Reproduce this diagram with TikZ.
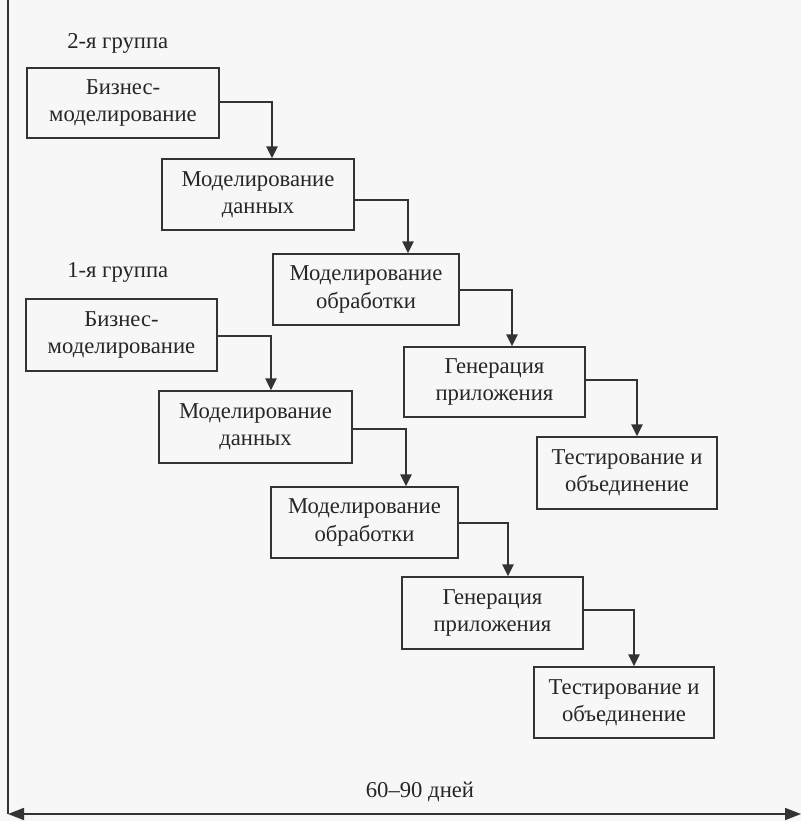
\documentclass[tikz,border=0pt]{standalone}
\usepackage{fontspec}
\setmainfont{Liberation Serif}
\usetikzlibrary{arrows.meta,calc}
\begin{document}
\begin{tikzpicture}[x=0.75pt,y=-0.75pt,
  every node/.style={text=black!85, font=\fontsize{17}{20.5}\selectfont},
  stage/.style={draw=black!80, line width=1.1pt, fill=none, rectangle, align=center, inner sep=0pt},
  arr/.style={draw=black!80, line width=1.2pt, -{Triangle[length=9pt,width=8.5pt]}},
  axis/.style={draw=black!80, line width=1.3pt},
  lbl/.style={inner sep=0pt, anchor=west}
]
\useasboundingbox[fill=white!97!black] (0,0) rectangle (801,821);

% group 2
\node[lbl] (g2) at (67,43) {2-я группа};
\node[stage, minimum width=192*0.75pt, minimum height=70*0.75pt] (A2) at (123,103) {Бизнес-\\моделирование};
\node[stage, minimum width=192*0.75pt, minimum height=71*0.75pt] (B2) at (258,194.5) {Моделирование\\данных};
\node[stage, minimum width=186*0.75pt, minimum height=71*0.75pt] (C2) at (366,289.5) {Моделирование\\обработки};
\node[stage, minimum width=181*0.75pt, minimum height=70*0.75pt] (D2) at (494.5,382) {Генерация\\приложения};
\node[stage, minimum width=180*0.75pt, minimum height=72*0.75pt] (E2) at (627,473) {Тестирование и\\объединение};

% group 1
\node[lbl] (g1) at (67,272) {1-я группа};
\node[stage, minimum width=191*0.75pt, minimum height=72*0.75pt] (A1) at (121.5,335) {Бизнес-\\моделирование};
\node[stage, minimum width=193*0.75pt, minimum height=72*0.75pt] (B1) at (255.5,427) {Моделирование\\данных};
\node[stage, minimum width=187*0.75pt, minimum height=71*0.75pt] (C1) at (364.5,522.5) {Моделирование\\обработки};
\node[stage, minimum width=181*0.75pt, minimum height=72*0.75pt] (D1) at (492.5,613) {Генерация\\приложения};
\node[stage, minimum width=180*0.75pt, minimum height=71*0.75pt] (E1) at (624,702.5) {Тестирование и\\объединение};

% connectors group 2
\draw[arr] ($(A2.east)+(0,-1)$) -| ($(B2.north)+(14,0)$);
\draw[arr] ($(B2.east)+(0,5.5)$) -| ($(C2.north)+(42,0)$);
\draw[arr] ($(C2.east)+(0,0.5)$) -| ($(D2.north)+(17.5,0)$);
\draw[arr] ($(D2.east)+(0,-2)$) -| ($(E2.north)+(10,0)$);

% connectors group 1
\draw[arr] ($(A1.east)+(0,1)$) -| ($(B1.north)+(15.5,0)$);
\draw[arr] ($(B1.east)+(0,2)$) -| ($(C1.north)+(41.5,0)$);
\draw[arr] ($(C1.east)+(0,0.5)$) -| ($(D1.north)+(15.5,0)$);
\draw[arr] ($(D1.east)+(0,-3)$) -| ($(E1.north)+(10,0)$);

% axes
\coordinate (ytop) at (8,0);
\coordinate (corner) at (8,814);
\coordinate (xend) at (801,814);
\draw[axis] (ytop) -- (corner);
\draw[axis, {Triangle[length=12pt,width=9pt]}-{Triangle[length=12pt,width=9pt]}] (corner) -- (xend);
\node[inner sep=0pt] (days) at (420,792) {60–90 дней};
\end{tikzpicture}
\end{document}
